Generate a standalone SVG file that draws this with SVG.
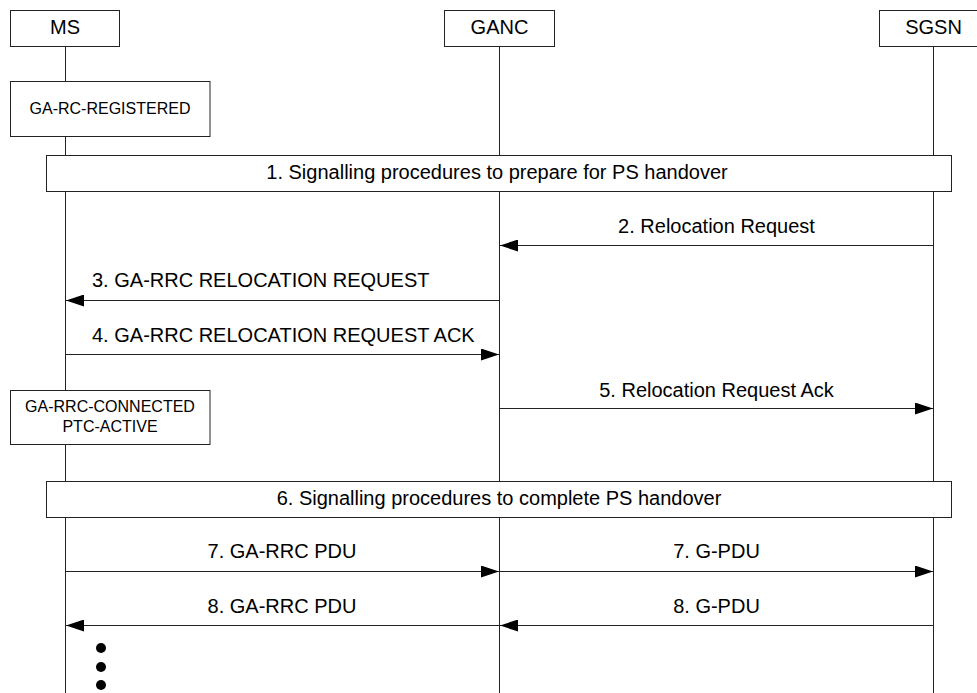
<svg xmlns="http://www.w3.org/2000/svg" width="977" height="693" viewBox="0 0 977 693">
<style>
.box{fill:#fff;stroke:#222;stroke-width:1}
.life{stroke:#222;stroke-width:1;fill:none}
.msg{stroke:#222;stroke-width:1.2;fill:none}
text{font-family:"Liberation Sans",Arial,sans-serif;fill:#000}
.t{font-size:20px}
.s{font-size:16px}
.c{text-anchor:middle}
</style>
<defs>
<marker id="ah" markerUnits="userSpaceOnUse" markerWidth="18" markerHeight="12" refX="18" refY="6" orient="auto">
<path d="M0,0 L18,6 L0,12 z" fill="#000"/>
</marker>
</defs>
<rect width="977" height="693" fill="#fff"/>
<g id="lifelines">
<line class="life" x1="65.5" y1="46" x2="65.5" y2="693"/>
<line class="life" x1="499.5" y1="46" x2="499.5" y2="693"/>
<line class="life" x1="933.5" y1="46" x2="933.5" y2="693"/>
</g>
<g id="MS"><rect class="box" x="10.5" y="10.5" width="109" height="36"/><text class="t c" x="65" y="34">MS</text></g>
<g id="GANC"><rect class="box" x="444.5" y="10.5" width="110" height="36"/><text class="t c" x="499.5" y="34">GANC</text></g>
<g id="SGSN"><rect class="box" x="879.5" y="10.5" width="110" height="36"/><text class="t c" x="933.5" y="34">SGSN</text></g>
<g id="state1"><rect class="box" x="10.5" y="81.5" width="199.5" height="55"/><text class="s c" x="110" y="114">GA-RC-REGISTERED</text></g>
<g id="step1"><rect class="box" x="46.5" y="155.5" width="905" height="36"/><text class="t c" x="497" y="179">1. Signalling procedures to prepare for PS handover</text></g>
<g id="state2"><rect class="box" x="10.5" y="390.5" width="199.5" height="54"/><text class="s c" x="110" y="412">GA-RRC-CONNECTED</text><text class="s c" x="110" y="432">PTC-ACTIVE</text></g>
<g id="step6"><rect class="box" x="46.5" y="481.5" width="905" height="36"/><text class="t c" x="499" y="505">6. Signalling procedures to complete PS handover</text></g>
<g id="connectors">
<line class="msg" x1="933.5" y1="245.5" x2="500" y2="245.5" marker-end="url(#ah)"/>
<text class="t c" x="716.5" y="233">2. Relocation Request</text>
<line class="msg" x1="499.5" y1="300.5" x2="66" y2="300.5" marker-end="url(#ah)"/>
<text class="t" x="92" y="287">3. GA-RRC RELOCATION REQUEST</text>
<line class="msg" x1="65.5" y1="354.5" x2="499" y2="354.5" marker-end="url(#ah)"/>
<text class="t" x="92" y="342">4. GA-RRC RELOCATION REQUEST ACK</text>
<line class="msg" x1="499.5" y1="408.5" x2="933" y2="408.5" marker-end="url(#ah)"/>
<text class="t c" x="716.5" y="397">5. Relocation Request Ack</text>
<line class="msg" x1="65.5" y1="571.5" x2="499" y2="571.5" marker-end="url(#ah)"/>
<text class="t c" x="282" y="558">7. GA-RRC PDU</text>
<line class="msg" x1="499.5" y1="571.5" x2="933" y2="571.5" marker-end="url(#ah)"/>
<text class="t c" x="716.5" y="558">7. G-PDU</text>
<line class="msg" x1="499.5" y1="625.5" x2="66" y2="625.5" marker-end="url(#ah)"/>
<text class="t c" x="282" y="612.5">8. GA-RRC PDU</text>
<line class="msg" x1="933.5" y1="625.5" x2="500" y2="625.5" marker-end="url(#ah)"/>
<text class="t c" x="716.5" y="612.5">8. G-PDU</text>
</g>
<g id="dots">
<circle cx="101" cy="648" r="5" fill="#000"/>
<circle cx="101" cy="667" r="5" fill="#000"/>
<circle cx="101" cy="685" r="5" fill="#000"/>
</g>
</svg>
